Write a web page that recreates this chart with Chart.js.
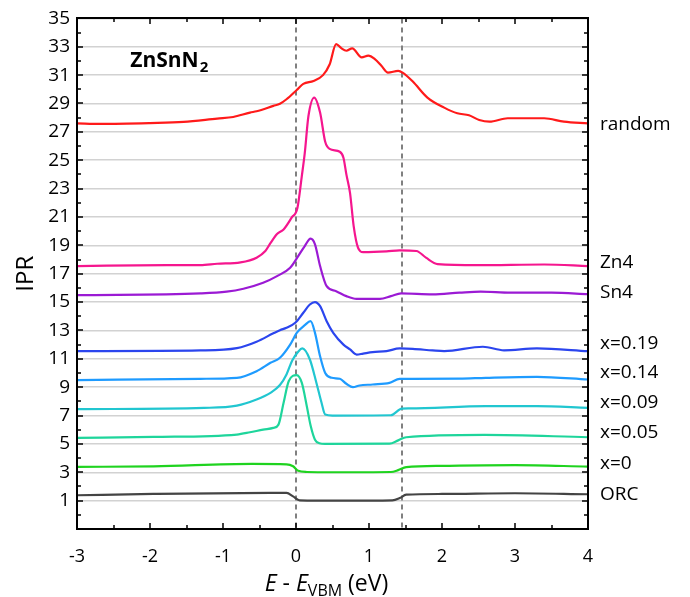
<!DOCTYPE html>
<html lang="en">
<head>
<meta charset="UTF-8">
<title>IPR - ZnSnN2</title>
<script src="https://cdn.jsdelivr.net/npm/chart.js"></script>
<style>
    html, body { margin: 0; padding: 0; background: #fff; }
    #wrap { width: 690px; height: 597px; }
</style>
</head>
<body>
<div id="wrap"><canvas id="iprChart" width="690" height="597"></canvas></div>

<script>
// Curves are offset vertically; every point is [E - E_VBM (eV), IPR]
const seriesNames = ['random', 'Zn4', 'Sn4', 'x=0.19', 'x=0.14', 'x=0.09', 'x=0.05', 'x=0', 'ORC'];
const seriesColors = ['#ff1a1a', '#f5168e', '#9b1ad4', '#2b45ee', '#1e9bff', '#21c6d0', '#1ed59b', '#1fd31f', '#444444'];

const iprRandom = [[-3, 27.6], [-2.68, 27.56], [-2.0, 27.62], [-1.54, 27.7], [-1.08, 27.94], [-0.86, 28.05],
    [-0.63, 28.36], [-0.54, 28.45], [-0.31, 28.83], [-0.22, 28.98], [-0.13, 29.3], [0.01, 29.95], [0.1, 30.38],
    [0.24, 30.59], [0.37, 31.0], [0.46, 31.75], [0.55, 33.19], [0.62, 32.9], [0.69, 32.72], [0.77, 32.89],
    [0.9, 32.25], [0.99, 32.37], [1.08, 32.13], [1.17, 31.66], [1.26, 31.18], [1.4, 31.3], [1.46, 31.18],
    [1.6, 30.55], [1.8, 29.42], [2.03, 28.71], [2.21, 28.31], [2.37, 28.17], [2.51, 27.84], [2.65, 27.72],
    [2.9, 27.96], [3.4, 27.96], [3.67, 27.72], [4.0, 27.6]];

const iprZn4 = [[-3, 17.54], [-1.77, 17.6], [-1.31, 17.6], [-1.08, 17.7], [-0.76, 17.8], [-0.54, 18.13],
    [-0.42, 18.6], [-0.35, 19.15], [-0.26, 19.8], [-0.17, 20.12], [-0.06, 20.95], [0.02, 21.65], [0.08, 23.9],
    [0.12, 25.5], [0.17, 28.1], [0.25, 29.42], [0.33, 28.36], [0.4, 26.3], [0.46, 25.8], [0.6, 25.6],
    [0.65, 25.18], [0.69, 24.0], [0.74, 22.7], [0.79, 20.36], [0.85, 18.83], [0.92, 18.52], [1.24, 18.57],
    [1.42, 18.64], [1.65, 18.6], [1.78, 18.13], [1.94, 17.68], [2.49, 17.6], [3.4, 17.65], [4.0, 17.54]];

const iprSn4 = [[-3, 15.49], [-1.31, 15.61], [-0.95, 15.73], [-0.72, 15.94], [-0.45, 16.36], [-0.26, 16.83],
    [-0.08, 17.42], [0.03, 18.24], [0.12, 18.95], [0.2, 19.47], [0.26, 19.07], [0.33, 17.54], [0.42, 16.12],
    [0.55, 15.77], [0.69, 15.42], [0.83, 15.23], [1.15, 15.23], [1.3, 15.42], [1.44, 15.61], [1.87, 15.54],
    [2.24, 15.66], [2.53, 15.73], [2.94, 15.66], [3.5, 15.66], [4.0, 15.56]];

const iprX019 = [[-3, 11.54], [-1.31, 11.59], [-0.81, 11.75], [-0.54, 12.2], [-0.31, 12.8], [-0.22, 13.02],
    [-0.13, 13.19], [-0.01, 13.54], [0.1, 14.25], [0.19, 14.83], [0.26, 15.0], [0.33, 14.71], [0.42, 13.65],
    [0.51, 12.83], [0.65, 12.0], [0.74, 11.66], [0.83, 11.3], [0.92, 11.37], [1.05, 11.47], [1.24, 11.54],
    [1.42, 11.73], [1.6, 11.7], [1.87, 11.59], [2.03, 11.54], [2.56, 11.85], [2.85, 11.6], [3.3, 11.73], [4.0, 11.54]];

const iprX014 = [[-3, 9.49], [-1.31, 9.59], [-0.81, 9.66], [-0.54, 10.13], [-0.35, 10.72], [-0.22, 11.07],
    [-0.08, 12.0], [0.01, 12.83], [0.12, 13.37], [0.2, 13.65], [0.26, 12.83], [0.33, 11.18], [0.4, 10.0],
    [0.49, 9.66], [0.6, 9.59], [0.69, 9.24], [0.78, 9.0], [0.87, 9.12], [1.05, 9.19], [1.28, 9.3], [1.42, 9.59],
    [1.6, 9.59], [2.24, 9.6], [2.6, 9.66], [3.3, 9.73], [4.0, 9.54]];

const iprX009 = [[-3, 7.45], [-1.26, 7.54], [-0.81, 7.7], [-0.54, 8.13], [-0.35, 8.6], [-0.22, 9.15],
    [-0.13, 9.9], [-0.05, 10.9], [0.03, 11.5], [0.086, 11.73], [0.19, 10.95], [0.28, 9.3], [0.35, 7.9],
    [0.4, 7.07], [0.5, 7.0], [1.3, 7.02], [1.45, 7.49], [1.55, 7.5], [2.6, 7.66], [3.3, 7.66], [4.0, 7.54]];

const iprX005 = [[-3, 5.42], [-1.95, 5.49], [-0.81, 5.66], [-0.63, 5.82], [-0.45, 6.01], [-0.31, 6.13],
    [-0.24, 6.36], [-0.17, 7.9], [-0.1, 9.42], [0.01, 9.85], [0.08, 9.3], [0.15, 7.6], [0.2, 6.3], [0.26, 5.3],
    [0.32, 5.05], [0.4, 5.0], [1.28, 5.02], [1.4, 5.25], [1.51, 5.47], [2.58, 5.64], [4.0, 5.47]];

const iprX0 = [[-3, 3.38], [-1.95, 3.42], [-0.6, 3.59], [-0.13, 3.56], [-0.04, 3.42], [0.03, 3.1],
    [0.15, 3.02], [0.5, 3.0], [1.3, 3.02], [1.4, 3.15], [1.51, 3.36], [2.0, 3.45], [3.0, 3.5], [4.0, 3.4]];

const iprOrc = [[-3, 1.38], [-1.95, 1.47], [-0.35, 1.54], [-0.13, 1.54], [-0.04, 1.3], [0.05, 1.02],
    [0.3, 1.0], [1.0, 1.0], [1.32, 1.02], [1.42, 1.18], [1.51, 1.42], [2.0, 1.47], [3.0, 1.52], [4.0, 1.45]];

const seriesData = [iprRandom, iprZn4, iprSn4, iprX019, iprX014, iprX009, iprX005, iprX0, iprOrc];

// IPR level at which each curve name sits beside the right axis
const nameLevels = [27.5, 17.75, 15.7, 12.1, 10.0, 7.9, 5.8, 3.6, 1.4];
// band edges (VBM and CBM), dashed
const bandEdges = [0, 1.45];

const FONT = '"Open Sans", "DejaVu Sans", sans-serif';

// dashed band edges under the curves
const bandLines = {
    id: 'bandLines',
    beforeDatasetsDraw(chart) {
        const { ctx, chartArea: a, scales: { x } } = chart;
        ctx.save();
        ctx.strokeStyle = '#808080';
        ctx.lineWidth = 2;
        ctx.setLineDash([5, 4]);
        bandEdges.forEach(e => {
            const px = Math.round(x.getPixelForValue(e));
            ctx.beginPath();
            ctx.moveTo(px, a.top);
            ctx.lineTo(px, a.bottom);
            ctx.stroke();
        });
        ctx.restore();
    }
};

// box round the plot and ticks pointing inwards, painted as thin filled bars
const frame = {
    id: 'frame',
    afterDraw(chart) {
        const c = chart.ctx;
        const a = chart.chartArea;
        const xs = chart.scales.x, ys = chart.scales.y;
        const L = Math.round(a.left), R = Math.round(a.right);
        const T = Math.round(a.top), B = Math.round(a.bottom);
        c.save();
        c.fillStyle = '#000';
        c.fillRect(L - 1, T - 1, R - L + 2, 2);
        c.fillRect(L - 1, B - 1, R - L + 2, 2);
        c.fillRect(L - 1, T - 1, 2, B - T + 2);
        c.fillRect(R - 1, T - 1, 2, B - T + 2);

        for (let e = -3; e <= 4; e += 0.5) {
            const px = Math.round(xs.getPixelForValue(e));
            const len = Number.isInteger(e) ? 6 : 4;
            c.fillRect(px - 0.75, B - len, 1.5, len);
            c.fillRect(px - 0.75, T, 1.5, len);
        }
        for (let v = -1; v <= 35; v += 1) {
            const py = Math.round(ys.getPixelForValue(v));
            const len = Math.abs(v % 2) === 1 ? 6 : 4;
            c.fillRect(L, py - 0.75, len, 1.5);
            c.fillRect(R - len, py - 0.75, len, 1.5);
        }
        c.restore();
    }
};

// curve names, compound name and the x axis title
const texts = {
    id: 'texts',
    afterDraw(chart) {
        const { ctx, chartArea: a, scales: { x, y } } = chart;
        ctx.save();
        ctx.fillStyle = '#000';
        ctx.font = '19px ' + FONT;
        ctx.textAlign = 'left';
        ctx.textBaseline = 'middle';
        seriesNames.forEach((name, i) => {
            ctx.fillText(name, a.right + 12, y.getPixelForValue(nameLevels[i]));
        });

        // N with subscript 2
        ctx.textBaseline = 'alphabetic';
        const tx = x.getPixelForValue(-2.27);
        const ty = y.getPixelForValue(31.56);
        ctx.font = 'bold 21px ' + FONT;
        ctx.fillText('ZnSnN', tx, ty);
        const w = ctx.measureText('ZnSnN').width;
        ctx.font = 'bold 15px ' + FONT;
        ctx.fillText('2', tx + w + 1, ty + 5);

        // E - E_VBM (eV)
        const runs = [
            { t: 'E', f: 'italic 23px ' + FONT, dy: 0 },
            { t: ' - ', f: '23px ' + FONT, dy: 0 },
            { t: 'E', f: 'italic 23px ' + FONT, dy: 0 },
            { t: 'VBM', f: '16px ' + FONT, dy: 5 },
            { t: ' (eV)', f: '23px ' + FONT, dy: 0 }
        ];
        let total = 0;
        runs.forEach(r => { ctx.font = r.f; r.w = ctx.measureText(r.t).width; total += r.w; });
        let cx = (a.left + a.right) / 2 - total / 2 - 6;
        runs.forEach(r => {
            ctx.font = r.f;
            ctx.fillText(r.t, cx, 591 + r.dy);
            cx += r.w;
        });
        ctx.restore();
    }
};

const ctx = document.getElementById('iprChart').getContext('2d');
new Chart(ctx, {
    type: 'line',
    data: {
        datasets: seriesData.map((pts, i) => ({
            label: seriesNames[i],
            data: pts,
            borderColor: seriesColors[i],
            borderWidth: 2.2,
            pointRadius: 0,
            fill: false,
            cubicInterpolationMode: 'monotone'
        }))
    },
    options: {
        responsive: false,
        animation: false,
        layout: { padding: { left: 0, right: 102, top: 18, bottom: 0 } },
        plugins: { legend: { display: false }, tooltip: { enabled: false } },
        scales: {
            x: {
                type: 'linear',
                min: -3,
                max: 4,
                grid: { display: false },
                border: { display: true, color: '#000', width: 2 },
                ticks: {
                    stepSize: 1,
                    padding: 9,
                    color: '#000',
                    font: { family: FONT, size: 18 }
                },
                afterFit: s => { s.height = 68; }
            },
            y: {
                min: -1,
                max: 35,
                grid: { color: '#d2d2d2', lineWidth: 1.5, drawTicks: false },
                border: { display: true, color: '#000', width: 2 },
                ticks: {
                    stepSize: 2,
                    padding: 7,
                    color: '#000',
                    font: { family: FONT, size: 19 },
                    callback: v => (v < 0 ? null : v)
                },
                title: {
                    display: true,
                    text: 'IPR',
                    color: '#000',
                    font: { family: FONT, size: 24 },
                    padding: { top: 12, bottom: 0 }
                },
                afterFit: s => { s.width = 77; }
            }
        }
    },
    plugins: [bandLines, frame, texts]
});
</script>
</body>
</html>
